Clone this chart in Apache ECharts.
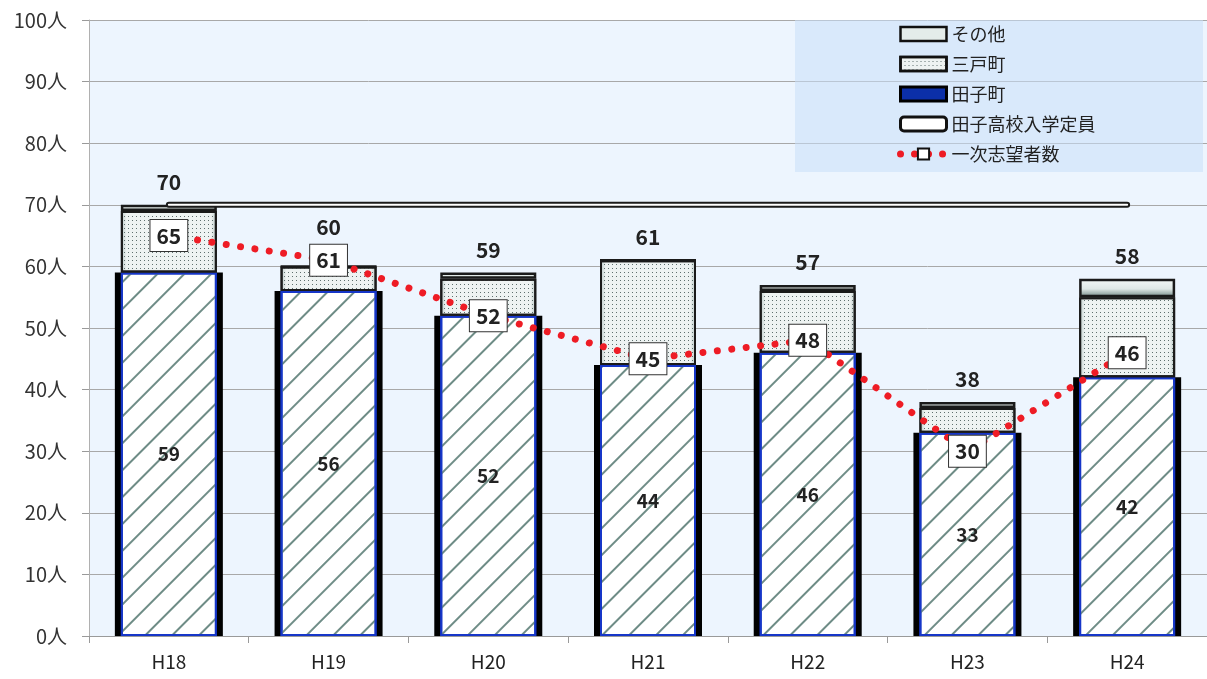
<!DOCTYPE html>
<html><head><meta charset="utf-8">
<script src="https://cdn.jsdelivr.net/npm/echarts@6/dist/echarts.min.js"></script>
<style>html,body{margin:0;padding:0;background:#fff}#c{width:1207px;height:679px}</style>
</head><body><div id="c"></div>
<script>
const categories = ['H18','H19','H20','H21','H22','H23','H24'];
const tagoValues = [59, 56, 52, 44, 46, 33, 42];
const sannoheValues = [10, 4, 6, 17, 10, 4, 13];
const otherValues = [1, 0, 1, 0, 1, 1, 3];
const totalValues = [70, 60, 59, 61, 57, 38, 58];
const capacityValues = [70, 70, 70, 70, 70, 70, 70];
const applicantValues = [65, 61, 52, 45, 48, 30, 46];
const yTicks = [0,10,20,30,40,50,60,70,80,90,100];

const FONT = '"Noto Sans CJK JP", "Noto Sans", sans-serif';
const chart = echarts.init(document.getElementById('c'), null, {renderer:'canvas'});
// H19 total label sits higher to clear the applicant box
const totalData = totalValues.map((v, i) => i === 1 ? {value: v, label: {offset: [0, -16]}} : v);
chart.setOption({
  animation: false,
  textStyle: {fontFamily: FONT},
  graphic: [{
    type: 'rect', z: 1, silent: true,
    shape: {x: 795, y: 20, width: 408, height: 152},
    style: {fill: 'rgba(200,222,248,0.55)'}
  }],
  grid: {left: 89, right: 0, top: 20, bottom: 43, show: true, backgroundColor: '#edf5fe', borderWidth: 0},
  legend: {
    left: 897, top: 25, orient: 'vertical', itemWidth: 46, itemHeight: 14, itemGap: 12, padding: 0,
    textStyle: {fontSize: 18, lineHeight: 18, color: '#222', fontFamily: FONT},
    data: [
      {name: 'その他', icon: 'rect', itemStyle: {color: '#e4ecea', borderColor: '#111', borderWidth: 2.5, decal: 'none'}},
      {name: '三戸町', icon: 'rect', itemStyle: {borderColor: '#111', borderWidth: 2.5}},
      {name: '田子町', icon: 'rect', itemStyle: {color: '#0b2fa8', borderColor: '#000', borderWidth: 3, decal: 'none'}},
      {name: '田子高校入学定員', icon: 'roundRect', itemStyle: {color: '#fff', borderColor: '#111', borderWidth: 3}},
      {name: '一次志望者数', lineStyle: {width: 7, type: [0.01, 14], cap: 'round', color: '#ee1c25'}}
    ]
  },
  xAxis: [{
    type: 'category', data: categories,
    axisLine: {lineStyle: {color: '#9a9a9a'}},
    axisTick: {show: true, length: 7, lineStyle: {color: '#9a9a9a'}},
    axisLabel: {fontSize: 19, color: '#222', margin: 16}
  }, {
    type: 'category', data: categories, show: false
  }],
  yAxis: {
    type: 'value', min: 0, max: 100, interval: 10,
    axisLine: {show: true, lineStyle: {color: '#b0b0b0'}},
    axisTick: {show: true, length: 7, lineStyle: {color: '#9a9a9a'}},
    axisLabel: {formatter: v => yTicks.includes(v) ? v + '人' : '', fontSize: 20, color: '#333', margin: 22},
    splitLine: {lineStyle: {color: '#a8a8a8', width: 1}}
  },
  series: [
    {
      name: 'frame', type: 'bar', xAxisIndex: 1, data: tagoValues, barWidth: 108, z: 2,
      itemStyle: {color: '#000', borderColor: '#000', borderWidth: 4}, silent: true, legendHoverLink: false
    },
    {
      name: '田子町', type: 'bar', stack: 's', data: tagoValues, barWidth: 96, z: 3,
      itemStyle: {
        color: '#ffffff', borderColor: '#1636c8', borderWidth: 2,
        decal: {symbol: 'rect', dashArrayX: [1, 0], dashArrayY: [2, 17], rotation: -Math.PI / 4, color: '#6e8c86', symbolSize: 1}
      },
      label: {show: true, position: 'inside', fontSize: 19, fontWeight: 'bold', color: '#222'}
    },
    {
      name: '三戸町', type: 'bar', stack: 's', data: sannoheValues, barWidth: 106, z: 3,
      itemStyle: {
        color: {type: 'linear', x: 0, y: 0, x2: 1, y2: 0, colorStops: [
          {offset: 0, color: '#b9c8c6'}, {offset: 0.06, color: '#eef3f2'},
          {offset: 0.94, color: '#eef3f2'}, {offset: 1, color: '#b9c8c6'}]},
        borderColor: '#1a1a1a', borderWidth: 2,
        decal: {symbol: 'rect', symbolSize: 1, dashArrayX: [1, 3], dashArrayY: [1, 3], color: '#5f706e'}
      }
    },
    {
      name: 'その他', type: 'bar', stack: 's', data: otherValues, barWidth: 106, z: 3,
      itemStyle: {
        color: {type: 'linear', x: 0, y: 0, x2: 0, y2: 1, colorStops: [
          {offset: 0, color: '#f4f8f7'}, {offset: 0.55, color: '#dfe8e6'}, {offset: 1, color: '#6f8683'}]},
        borderColor: '#1a1a1a', borderWidth: 2.5
      }
    },
    {
      name: 'total', type: 'line', data: totalData, symbol: 'circle', symbolSize: 1, z: 4, silent: true,
      itemStyle: {color: 'rgba(0,0,0,0)'}, lineStyle: {opacity: 0}, legendHoverLink: false,
      label: {show: true, position: 'top', distance: 12, fontSize: 21, fontWeight: 'bold', color: '#222'}
    },
    {
      name: '田子高校入学定員', type: 'line', data: capacityValues, symbol: 'none', z: 5,
      lineStyle: {color: '#1a1a1a', width: 6, cap: 'round'}
    },
    {
      name: 'capInner', type: 'line', data: capacityValues, symbol: 'none', z: 6, silent: true,
      lineStyle: {color: '#ffffff', width: 2, cap: 'round'}
    },
    {
      name: '一次志望者数', type: 'line', data: applicantValues, z: 7,
      symbol: 'rect', symbolSize: 12,
      itemStyle: {color: '#fff', borderColor: '#111', borderWidth: 1},
      lineStyle: {color: '#ee1c25', width: 7, type: [0.01, 14.5], cap: 'round'},
      label: {show: true, position: 'inside', fontSize: 21, fontWeight: 'bold', color: '#222',
        backgroundColor: '#fff', borderColor: '#333', borderWidth: 1, padding: [6, 6, 4, 6]}
    }
  ]
});
</script></body></html>
